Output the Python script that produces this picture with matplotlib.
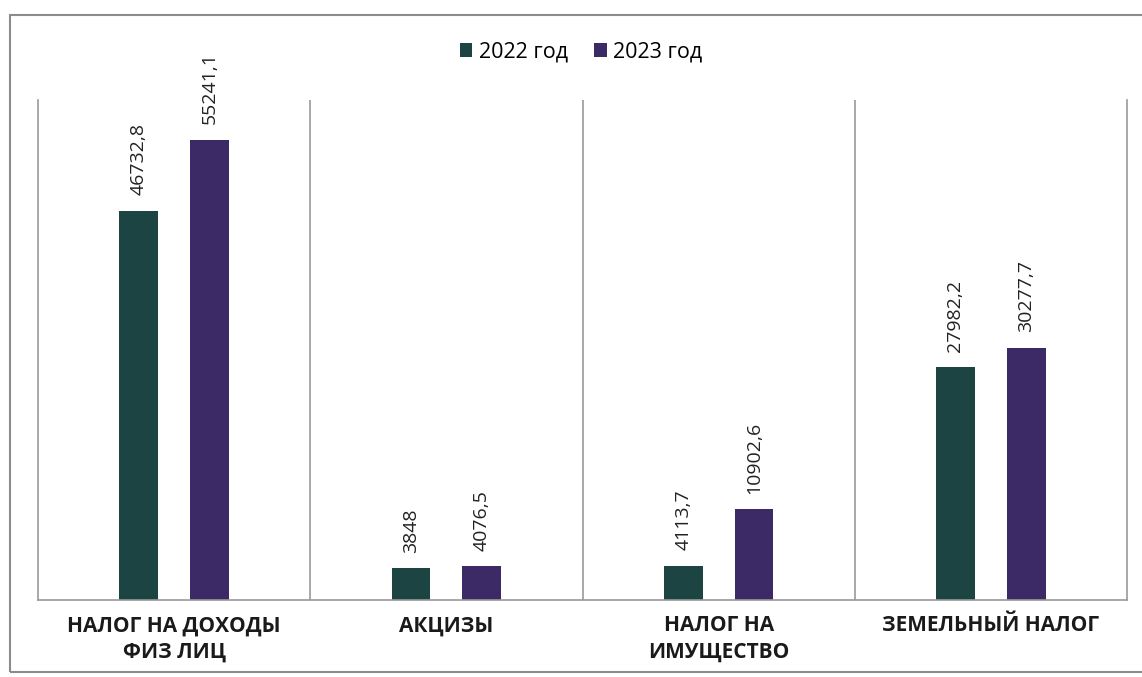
import numpy as np
import matplotlib.pyplot as plt
from matplotlib.patches import Rectangle

plt.rcParams['font.family'] = ['Open Sans', 'DejaVu Sans']

# data
categories = ['НАЛОГ НА ДОХОДЫ\nФИЗ ЛИЦ', 'АКЦИЗЫ', 'НАЛОГ НА\nИМУЩЕСТВО', 'ЗЕМЕЛЬНЫЙ НАЛОГ']
years = ['2022 год', '2023 год']
values_2022 = [46732.8, 3848, 4113.7, 27982.2]
values_2023 = [55241.1, 4076.5, 10902.6, 30277.7]
labels_2022 = ['46732,8', '3848', '4113,7', '27982,2']
labels_2023 = ['55241,1', '4076,5', '10902,6', '30277,7']

col_2022 = '#1c4442'
col_2023 = '#3b2a66'
grid_col = '#9a9a9a'

fig = plt.figure(figsize=(11.42, 6.77), dpi=100)
# outer chart border
fig.patches.append(Rectangle((10 / 1142, 1 - 672 / 677), 1.2, (672 - 15) / 677,
                             transform=fig.transFigure, fill=False,
                             edgecolor='#8c8c8c', lw=1.5))

ax = fig.add_axes([38 / 1142, 1 - 600 / 677, (1127 - 38) / 1142, 500 / 677])

x = np.arange(len(categories))
w = 0.143
off = 0.13
b1 = ax.bar(x - off, values_2022, w, color=col_2022, label=years[0])
b2 = ax.bar(x + off, values_2023, w, color=col_2023, label=years[1])

for bars, labs in ((b1, labels_2022), (b2, labels_2023)):
    for r, t in zip(bars, labs):
        ax.annotate(t, (r.get_x() + r.get_width() / 2, r.get_height()),
                    xytext=(0, 11), textcoords='offset points',
                    rotation=90, ha='center', va='bottom', fontsize=14,
                    color='#222222')

ax.set_xlim(-0.5, len(categories) - 0.5)
ax.set_ylim(0, 60000)

# vertical separators between categories
for s in np.arange(0.5, len(categories) - 0.5, 1):
    ax.axvline(s, color=grid_col, lw=1.2)

for side in ('left', 'right', 'bottom'):
    ax.spines[side].set_color(grid_col)
    ax.spines[side].set_linewidth(1.2)
ax.spines['top'].set_visible(False)

ax.set_yticks([])
ax.set_xticks(x)
ax.set_xticklabels(categories, fontsize=15, fontweight='bold', color='#1a1a1a',
                   linespacing=1.35)
ax.tick_params(axis='x', length=0, pad=11)

leg = fig.legend(loc='center', bbox_to_anchor=(581 / 1142, 1 - 52 / 677), ncol=2,
                 frameon=False, fontsize=15.5, handlelength=0.6, handleheight=0.6,
                 handletextpad=0.3, columnspacing=1.2)

fig.savefig('out.png', dpi=100)
